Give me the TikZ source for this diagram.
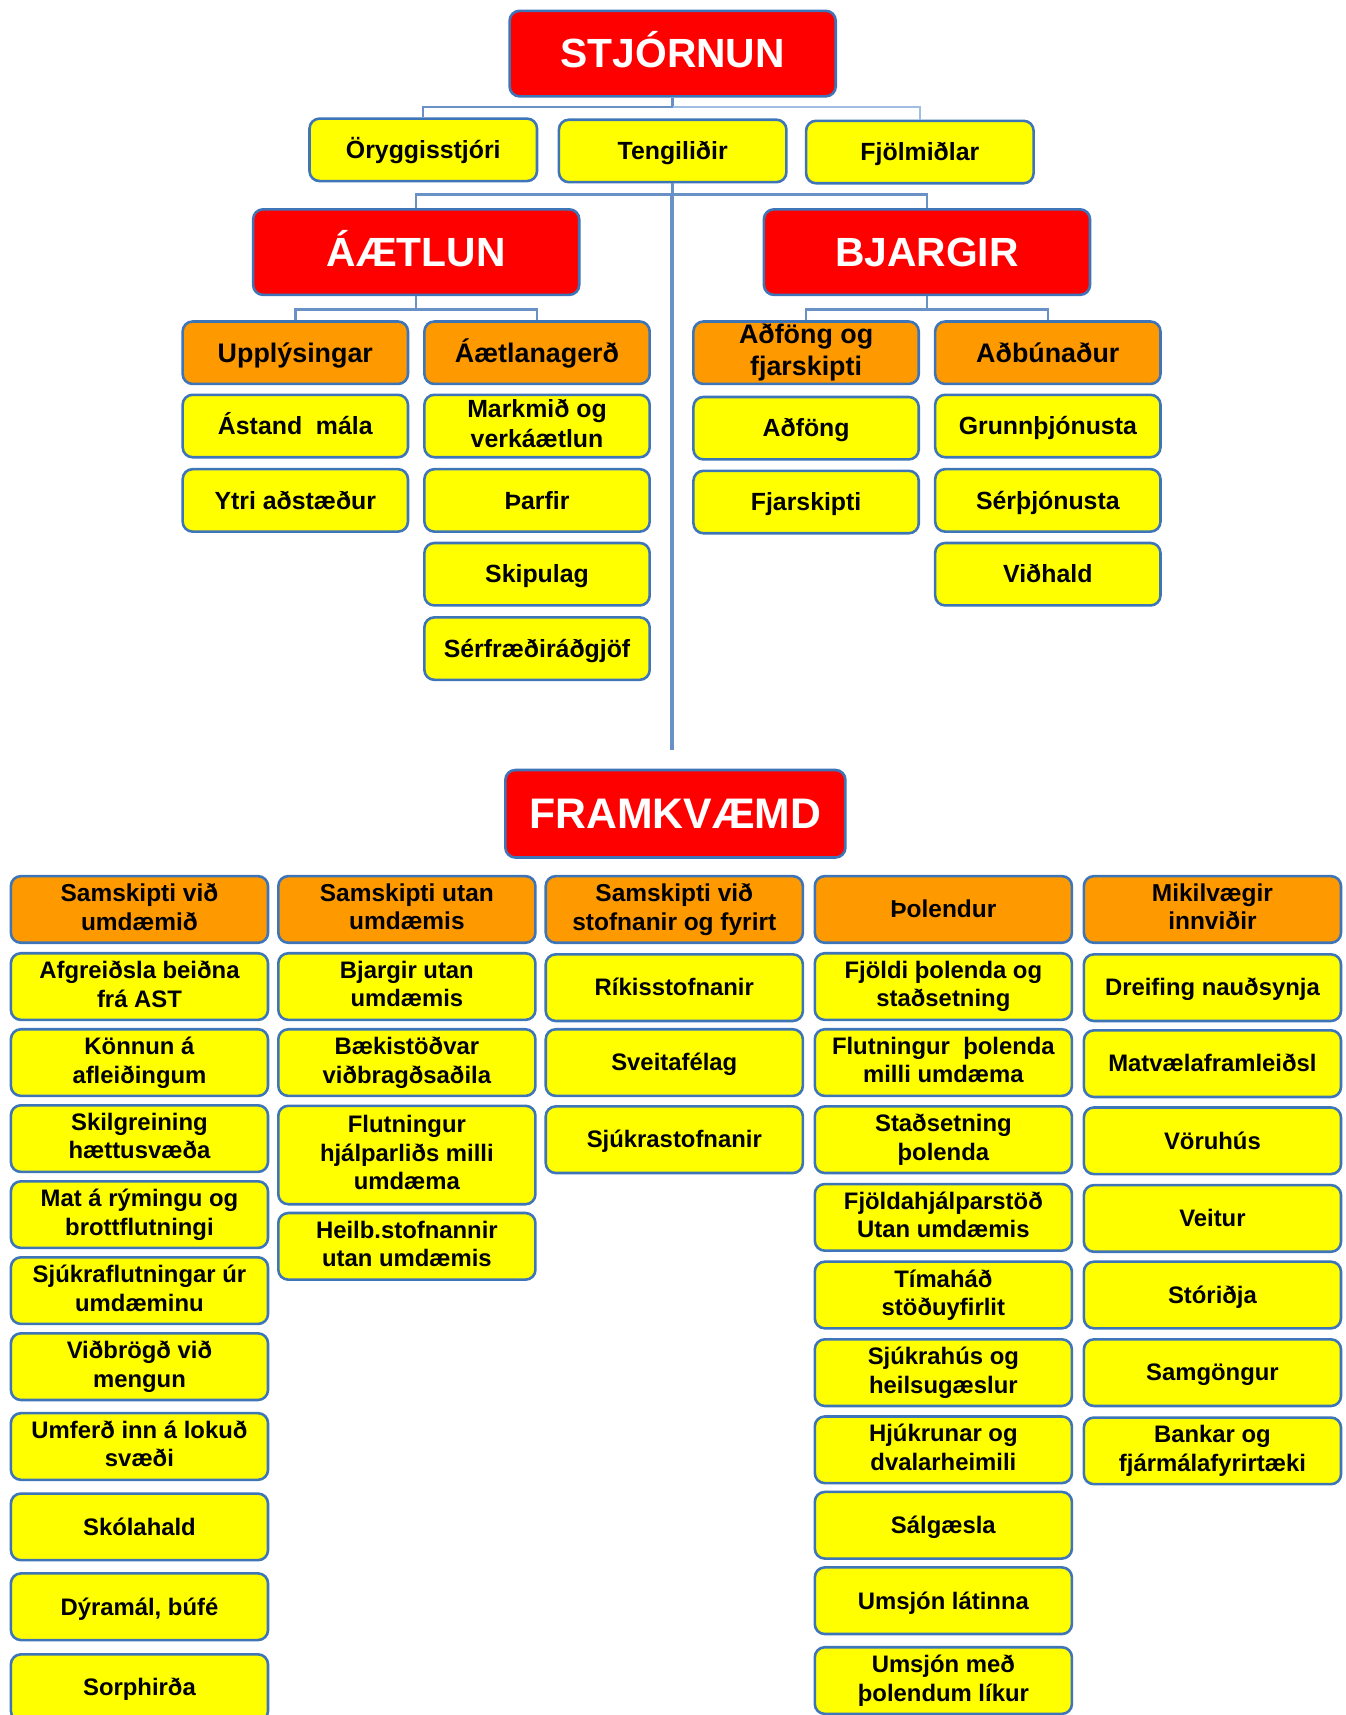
\documentclass[tikz,border=0pt]{standalone}
\usepackage{fontspec}
\setmainfont{Liberation Sans}
\usetikzlibrary{positioning}

\definecolor{boxred}{RGB}{255,0,0}
\definecolor{boxorange}{RGB}{255,153,0}
\definecolor{boxyellow}{RGB}{255,255,0}
\definecolor{boxline}{RGB}{62,117,185}
\definecolor{connline}{RGB}{105,145,198}
\definecolor{connlight}{RGB}{160,190,228}

% strut with the ascent and descent of the font, so text sits centred
\newcommand{\boxstrut}{\rule[-0.21em]{0pt}{1.115em}}

\tikzset{
  box/.style={draw=boxline, line width=1.3pt, rounded corners=5pt, align=center, inner sep=1pt,
    execute at begin node=\boxstrut, execute at end node=\boxstrut},
  redbox/.style={box, fill=boxred, text=white, minimum width=164pt, minimum height=43pt,
    font=\bfseries\fontsize{20.5}{24}\selectfont},
  tophead/.style={box, fill=boxorange, minimum width=113.3pt, minimum height=31.4pt,
    font=\bfseries\fontsize{13.5}{16}\selectfont},
  topbox/.style={box, fill=boxyellow, minimum width=113.3pt, minimum height=31.4pt,
    font=\bfseries\fontsize{12.5}{14.9}\selectfont},
  lowhead/.style={box, fill=boxorange, minimum width=129.3pt, minimum height=33.5pt,
    font=\bfseries\fontsize{12.3}{14.3}\selectfont},
  lowbox/.style={box, fill=boxyellow, minimum width=129.3pt, minimum height=33.5pt,
    font=\bfseries\fontsize{12}{14.3}\selectfont},
  conn/.style={draw=connline, line width=1.2pt},
  trunk/.style={draw=connline, line width=2pt}
}

\begin{document}
\begin{tikzpicture}[x=0.55pt, y=-0.55pt]

\useasboundingbox (0,0) rectangle (1230,1568);

% Stjornun and its staff
\node[redbox] (stj) at (615,49) {STJÓRNUN};
\node[topbox, minimum width=114.4pt] (ory) at (387,137) {Öryggisstjóri};
\node[topbox, minimum width=114.4pt] (ten) at (615,138) {Tengiliðir};
\node[topbox, minimum width=114.4pt] (fjo) at (841,139) {Fjölmiðlar};

% Aaetlun and Bjargir
\node[redbox] (aet) at (380.5,230.5) {ÁÆTLUN};
\node[redbox] (bja) at (847.5,230.5) {BJARGIR};

% Aaetlun branches
\node[tophead] (upp) at (270,322.5) {Upplýsingar};
\node[tophead] (aeg) at (491,322.5) {Áætlanagerð};
\node[topbox] (ast) at (270,389.5) {Ástand~ mála};
\node[topbox] (ytr) at (270,457.5) {Ytri aðstæður};
\node[topbox] (mar) at (491,389.5) {Markmið og\\verkáætlun};
\node[topbox] (tha) at (491,457.5) {Þarfir};
\node[topbox] (ski) at (491,525) {Skipulag};
\node[topbox] (srf) at (491,593) {Sérfræðiráðgjöf};

% Bjargir branches
\node[tophead] (adf) at (737,322.5) {Aðföng og\\fjarskipti};
\node[tophead] (adb) at (958,322.5) {Aðbúnaður};
\node[topbox] (adg) at (737,391.5) {Aðföng};
\node[topbox] (fja) at (737,459) {Fjarskipti};
\node[topbox] (gru) at (958,389.5) {Grunnþjónusta};
\node[topbox] (sth) at (958,457.5) {Sérþjónusta};
\node[topbox] (vid) at (958,525) {Viðhald};

% Framkvaemd
\node[redbox, minimum width=171pt, minimum height=44pt, font=\bfseries\fontsize{21.5}{25}\selectfont]
  (fra) at (617.5,744) {FRAMKVÆMD};

% Column 1
\node[lowhead] (sam1) at (127.5,831.5) {Samskipti við\\umdæmið};
\node[lowbox] (afg) at (127.5,902) {Afgreiðsla beiðna\\frá AST};
\node[lowbox] (kon) at (127.5,971.5) {Könnun á\\afleiðingum};
\node[lowbox] (skg) at (127.5,1041) {Skilgreining\\hættusvæða};
\node[lowbox] (mat) at (127.5,1110.5) {Mat á rýmingu og\\brottflutningi};
\node[lowbox] (sjf) at (127.5,1180) {Sjúkraflutningar úr\\umdæminu};
\node[lowbox] (vbm) at (127.5,1249.5) {Viðbrögð við\\mengun};
\node[lowbox] (umf) at (127.5,1322.5) {Umferð inn á lokuð\\svæði};
\node[lowbox] (sko) at (127.5,1396) {Skólahald};
\node[lowbox] (dyr) at (127.5,1469) {Dýramál, búfé};
\node[lowbox] (sor) at (127.5,1543) {Sorphirða};

% Column 2
\node[lowhead] (sam2) at (372,831.5) {Samskipti utan\\umdæmis};
\node[lowbox] (bju) at (372,902) {Bjargir utan\\umdæmis};
\node[lowbox] (bae) at (372,971.5) {Bækistöðvar\\viðbragðsaðila};
\node[lowbox, minimum height=49.5pt] (flh) at (372,1056) {Flutningur\\hjálparliðs milli\\umdæma};
\node[lowbox] (hei) at (372,1139.5) {Heilb.stofnannir\\utan umdæmis};

% Column 3
\node[lowhead] (sam3) at (616.5,831.5) {Samskipti við\\stofnanir og fyrirt};
\node[lowbox] (rik) at (616.5,903) {Ríkisstofnanir};
\node[lowbox] (sve) at (616.5,971.5) {Sveitafélag};
\node[lowbox] (sjs) at (616.5,1042) {Sjúkrastofnanir};

% Column 4
\node[lowhead] (tho) at (862.5,831.5) {Þolendur};
\node[lowbox] (fjt) at (862.5,902) {Fjöldi þolenda og\\staðsetning};
\node[lowbox] (flt) at (862.5,971.5) {Flutningur~ þolenda\\milli umdæma};
\node[lowbox] (stt) at (862.5,1042) {Staðsetning\\þolenda};
\node[lowbox] (fjh) at (862.5,1113) {Fjöldahjálparstöð\\Utan umdæmis};
\node[lowbox] (tim) at (862.5,1184) {Tímaháð\\stöðuyfirlit};
\node[lowbox] (sjh) at (862.5,1255) {Sjúkrahús og\\heilsugæslur};
\node[lowbox] (hju) at (862.5,1325.5) {Hjúkrunar og\\dvalarheimili};
\node[lowbox] (sal) at (862.5,1394.5) {Sálgæsla};
\node[lowbox] (uml) at (862.5,1463.5) {Umsjón látinna};
\node[lowbox] (ump) at (862.5,1536.5) {Umsjón með\\þolendum líkur};

% Column 5
\node[lowhead] (mik) at (1108.5,831.5) {Mikilvægir\\innviðir};
\node[lowbox] (dre) at (1108.5,903) {Dreifing nauðsynja};
\node[lowbox] (mvf) at (1108.5,972.5) {Matvælaframleiðsl};
\node[lowbox] (vor) at (1108.5,1043) {Vöruhús};
\node[lowbox] (vei) at (1108.5,1114) {Veitur};
\node[lowbox] (sto) at (1108.5,1184) {Stóriðja};
\node[lowbox] (smg) at (1108.5,1255) {Samgöngur};
\node[lowbox] (ban) at (1108.5,1326.5) {Bankar og\\fjármálafyrirtæki};

% Connectors under Stjornun
\coordinate (stjbar) at (615,98);
\draw[conn] (stj.south) -- (stjbar);
\draw[conn] (ory.north) |- (stjbar);
\draw[conn, draw=connlight] (stjbar) -| (fjo.north);

% Connectors under Tengilidir
\coordinate (tenbar) at (614,178);
\coordinate (trunkend) at (614,686);
\draw[conn] (ten.south) -- (ten.south |- tenbar);
\draw[conn] (aet.north) |- (tenbar) -| (bja.north);
\draw[trunk] (tenbar) -- (trunkend);

% Connectors under Aaetlun and Bjargir
\coordinate (aetbar) at (380.5,283);
\coordinate (bjabar) at (847.5,283);
\draw[conn] (aet.south) -- (aetbar);
\draw[conn] (upp.north) |- (aetbar) -| (aeg.north);
\draw[conn] (bja.south) -- (bjabar);
\draw[conn] (adf.north) |- (bjabar) -| (adb.north);

\end{tikzpicture}
\end{document}
